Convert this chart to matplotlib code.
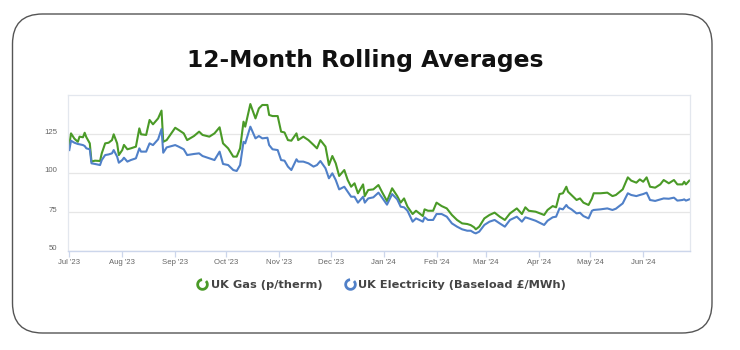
import matplotlib
matplotlib.use('Agg')
import matplotlib.pyplot as plt
import matplotlib.dates as mdates
from matplotlib.patches import FancyBboxPatch
from matplotlib.lines import Line2D
from matplotlib.path import Path
from matplotlib.transforms import IdentityTransform, ScaledTranslation
import pandas as pd

# days after 1 Jul 2023
days = [0, 1, 3, 5, 6, 8, 9, 10, 12, 13, 15, 18, 19, 21, 23, 25, 26, 28, 29, 31,
        32, 34, 36, 39, 41, 42, 45, 47, 49, 52, 54, 55, 57, 62, 64, 67, 69, 73, 76, 78,
        82, 85, 88, 90, 93, 96, 98, 100, 102, 103, 106, 109, 111, 113, 116, 117, 119, 122, 124, 126,
        128, 130, 133, 134, 137, 140, 143, 145, 147, 150, 152, 154, 156, 158, 161, 163, 165, 167, 169, 172,
        173, 175, 178, 181, 183, 186, 189, 192, 194, 196, 198, 201, 203, 205, 207, 208, 210, 213, 215, 218,
        221, 224, 227, 230, 233, 235, 237, 238, 240, 243, 246, 249, 252, 255, 258, 262, 265, 267, 269, 273,
        278, 280, 283, 285, 287, 289, 291, 292, 294, 297, 299, 301, 304, 306, 307, 311, 315, 318, 320, 324,
        327, 329, 332, 334, 336, 338, 340, 343, 346, 348, 351, 354, 356, 359, 360, 361, 363]

gas = [118.0, 125.4, 122.0, 120.0, 123.3, 122.9, 125.8, 122.9, 119.0, 107.3, 107.9, 107.7, 112.6, 119.0, 119.4, 121.1, 124.8, 119.0, 111.5, 114.7,
       118.0, 115.2, 115.8, 116.9, 128.6, 124.8, 124.4, 134.0, 131.2, 135.0, 140.0, 120.0, 121.1, 129.0, 127.6, 125.4, 121.1, 123.7, 126.5, 124.4,
       123.3, 125.4, 129.3, 119.0, 115.8, 110.5, 110.5, 115.8, 132.9, 129.7, 144.2, 135.0, 141.4, 143.6, 143.6, 137.2, 136.5, 136.5, 126.5, 126.0,
       121.1, 120.7, 125.4, 121.1, 123.3, 121.1, 118.0, 115.8, 121.1, 116.9, 105.1, 110.9, 106.2, 98.1, 101.9, 95.5, 91.2, 93.4, 87.0, 92.7,
       85.2, 89.1, 89.5, 92.3, 88.0, 82.0, 90.2, 85.2, 81.0, 83.7, 78.4, 73.7, 75.8, 74.1, 72.4, 76.7, 75.8, 75.8, 81.0, 78.8,
       77.3, 73.1, 69.9, 67.7, 67.3, 66.6, 65.2, 63.9, 65.6, 70.9, 73.1, 74.6, 72.0, 69.9, 74.1, 77.3, 73.7, 78.0, 75.8, 75.2,
       73.1, 76.3, 78.8, 78.0, 86.5, 87.0, 91.2, 88.0, 85.9, 82.7, 83.7, 81.0, 79.5, 83.7, 87.0, 87.0, 87.4, 85.2, 85.9, 89.5,
       97.2, 95.1, 93.8, 95.9, 94.4, 97.2, 91.2, 90.6, 92.7, 95.5, 93.4, 95.5, 92.7, 92.7, 94.4, 92.7, 95.1]

elec = [114.7, 120.7, 119.4, 118.6, 118.4, 117.9, 117.3, 115.8, 115.2, 106.2, 105.8, 105.1, 108.3, 111.5, 111.9, 112.6, 114.7, 110.5, 106.6, 108.3,
        109.8, 107.3, 108.3, 109.4, 115.8, 113.7, 113.7, 119.0, 117.9, 121.6, 128.2, 113.0, 116.4, 117.9, 116.9, 115.2, 111.5, 112.2, 112.6, 110.9,
        109.4, 108.3, 113.7, 105.8, 105.1, 101.9, 101.3, 105.1, 120.0, 119.0, 129.7, 122.2, 123.7, 122.2, 122.6, 117.9, 115.2, 114.7, 108.3, 107.9,
        104.1, 101.9, 108.8, 107.3, 107.3, 106.2, 104.1, 105.1, 107.7, 103.0, 96.6, 99.8, 95.5, 89.5, 91.2, 88.0, 84.8, 84.8, 81.0, 84.8,
        81.0, 83.7, 84.4, 87.4, 84.4, 79.7, 86.5, 83.1, 78.4, 78.0, 75.8, 68.8, 70.9, 69.9, 68.8, 71.6, 69.9, 69.9, 73.7, 73.7,
        72.0, 67.7, 65.6, 63.9, 63.0, 63.0, 61.7, 61.3, 62.4, 66.7, 68.8, 69.9, 67.7, 65.6, 69.9, 72.0, 68.8, 71.6, 70.9, 69.4,
        66.7, 69.4, 71.6, 72.0, 77.3, 76.7, 79.5, 78.0, 76.7, 74.1, 74.5, 72.4, 70.9, 75.8, 76.3, 76.7, 77.3, 76.3, 77.1, 80.5,
        87.0, 85.9, 85.2, 85.9, 86.5, 87.4, 82.7, 82.1, 83.1, 83.7, 83.5, 84.2, 82.3, 82.7, 83.1, 82.3, 83.1]

y_ticks = [50, 75, 100, 125]
series_names = ['UK Gas (p/therm)', 'UK Electricity (Baseload £/MWh)']

start = pd.Timestamp('2023-07-01')
dates = start + pd.to_timedelta(days, unit='D')

GREEN = '#4a9a27'
BLUE = '#5080c8'

fig = plt.figure(figsize=(7.4, 3.5), dpi=100)
fig.patch.set_facecolor('white')

# rounded card border (pixel coords)
card = FancyBboxPatch((12.5, 17), 699.5, 319, boxstyle='round,pad=0,rounding_size=30',
                      transform=IdentityTransform(), facecolor='none',
                      edgecolor='#555555', linewidth=1.0, zorder=-1)
fig.add_artist(card)

fig.text(0.493, 1 - 60 / 350, '12-Month Rolling Averages', ha='center', va='center',
         fontsize=16.8, fontweight='bold', color='#111111', family='DejaVu Sans')

ax = fig.add_axes([68.3 / 740, 1 - 251 / 350, (690 - 68.3) / 740, (251 - 95) / 350])
ax.plot(dates, gas, color=GREEN, lw=1.5, solid_joinstyle='round')
ax.plot(dates, elec, color=BLUE, lw=1.5, solid_joinstyle='round')

ax.set_ylim(50, 150)
ax.set_yticks(y_ticks)
ax.set_xlim(start - pd.Timedelta(hours=14), start + pd.Timedelta(days=363.4))
ax.xaxis.set_major_locator(mdates.MonthLocator())
ax.xaxis.set_major_formatter(mdates.DateFormatter("%b '%y"))

ax.grid(True, axis='y', color='#e6e6e6', lw=0.9)
ax.set_axisbelow(True)
for side in ['top', 'left', 'right']:
    ax.spines[side].set_color('#e3e7ee')
    ax.spines[side].set_linewidth(0.9)
ax.spines['bottom'].set_color('#ccd6eb')
ax.spines['bottom'].set_linewidth(1.0)

ax.tick_params(axis='x', length=4, width=0.9, color='#ccd6eb', pad=2,
               labelsize=5.6, labelcolor='#666666')
ax.tick_params(axis='y', length=0, pad=8, labelsize=5.6, labelcolor='#666666')
for lab in ax.get_xticklabels() + ax.get_yticklabels():
    lab.set_family('Liberation Sans')
up = ScaledTranslation(0, 3 / 100, fig.dpi_scale_trans)
for lab in ax.get_yticklabels():
    lab.set_transform(lab.get_transform() + up)

ring = Path.arc(95, 405)
handles = [Line2D([], [], ls='none', marker=ring, markersize=7, mfc='none',
                  mec=c, mew=2.0) for c in [GREEN, BLUE]]
leg = ax.legend(handles, series_names, loc='center', ncol=2, frameon=False,
                bbox_to_anchor=(382 / 740, 1 - 285 / 350), bbox_transform=fig.transFigure,
                prop={'family': 'DejaVu Sans', 'weight': 'bold', 'size': 8.2},
                handlelength=0.8, handletextpad=0.35, columnspacing=2.0, labelcolor='#444444')

fig.savefig('out.png', dpi=100)
